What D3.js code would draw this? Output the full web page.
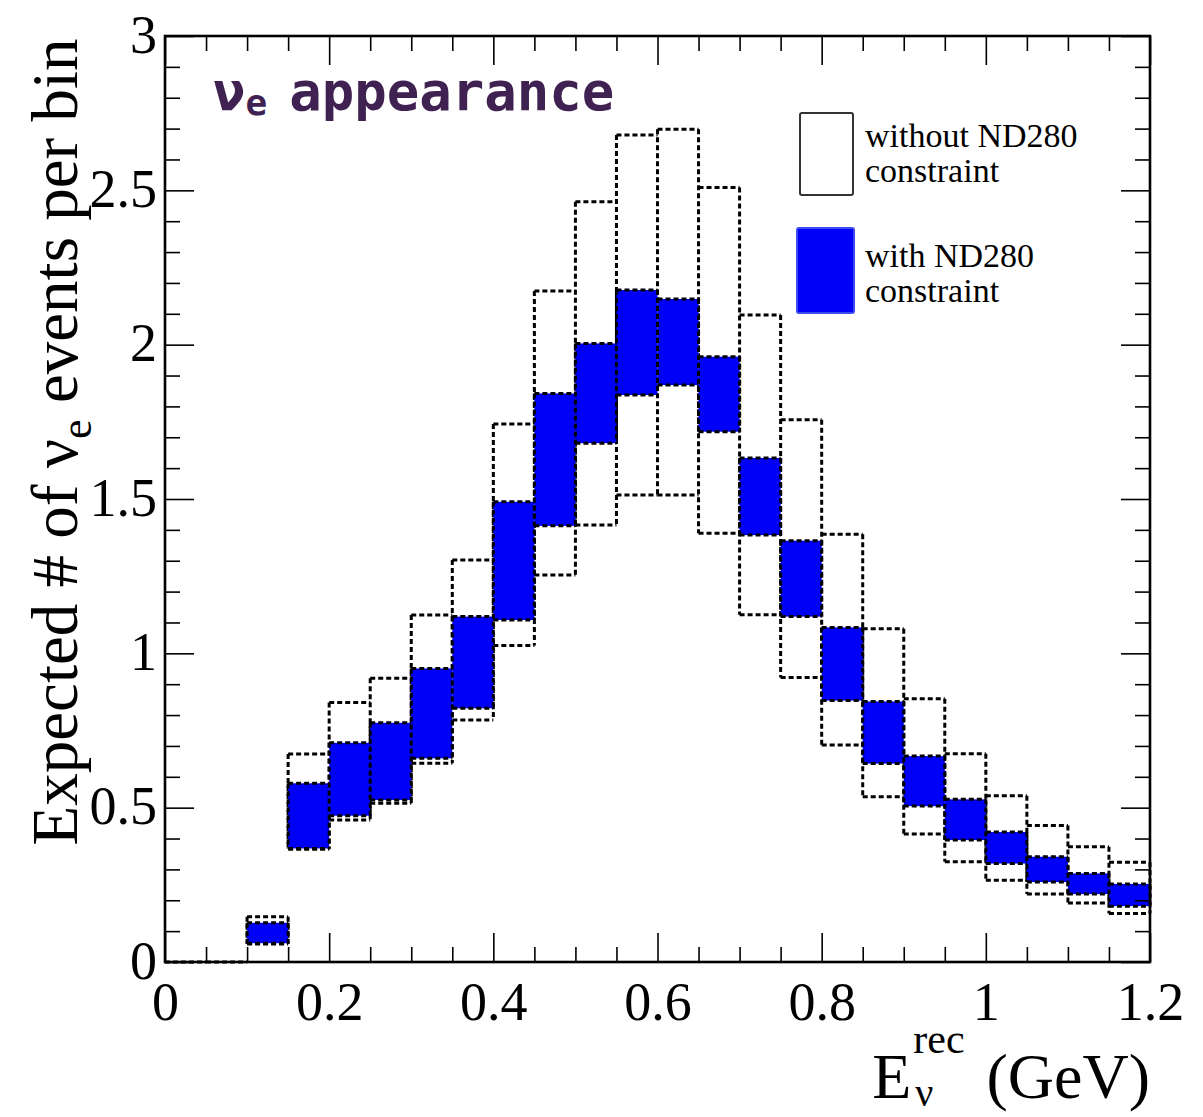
<!DOCTYPE html>
<html>
<head>
<meta charset="utf-8">
<script src="https://cdn.jsdelivr.net/npm/d3@7"></script>
<style>
  html, body { margin: 0; padding: 0; background: #fff; }
  svg { display: block; }
  .serif { font-family: "Liberation Serif", "Times New Roman", serif; }
</style>
</head>
<body>
<div id="chart"></div>
<script>
// bin edges of E_nu^rec (GeV), 24 bins of 0.05
var binEdges = [0, 0.05, 0.1, 0.15, 0.2, 0.25, 0.3, 0.35, 0.4, 0.45, 0.5, 0.55,
  0.6, 0.65, 0.7, 0.75, 0.8, 0.85, 0.9, 0.95, 1.0, 1.05, 1.1, 1.15, 1.2];

// error band without ND280 constraint (lower / upper edge per bin)
var withoutLow = [0, 0, 0.058, 0.365, 0.460, 0.514, 0.644, 0.784, 1.025, 1.254, 1.416, 1.513,
  1.513, 1.389, 1.125, 0.922, 0.703, 0.535, 0.415, 0.325, 0.265, 0.220, 0.191, 0.157];
var withoutHigh = [0, 0, 0.147, 0.674, 0.841, 0.919, 1.124, 1.302, 1.743, 2.174, 2.463, 2.679,
  2.698, 2.509, 2.096, 1.757, 1.386, 1.080, 0.853, 0.675, 0.539, 0.442, 0.373, 0.323];

// error band with ND280 constraint
var withLow = [0, 0, 0.061, 0.368, 0.474, 0.525, 0.660, 0.822, 1.108, 1.413, 1.681, 1.837,
  1.869, 1.718, 1.383, 1.119, 0.847, 0.643, 0.505, 0.395, 0.319, 0.259, 0.220, 0.181];
var withHigh = [0, 0, 0.127, 0.579, 0.710, 0.775, 0.951, 1.119, 1.491, 1.842, 2.004, 2.177,
  2.148, 1.961, 1.633, 1.365, 1.084, 0.844, 0.667, 0.527, 0.421, 0.341, 0.287, 0.253];

var xTickLabels = [0, 0.2, 0.4, 0.6, 0.8, 1, 1.2];
var yTickLabels = [0, 0.5, 1, 1.5, 2, 2.5, 3];

var legendLabels = [["without ND280", "constraint"], ["with ND280", "constraint"]];

var W = 1203, H = 1117;
var frame = { left: 165, right: 1150, top: 36, bottom: 962 };

var svg = d3.select('#chart').append('svg')
  .attr('width', W)
  .attr('height', H);

var x = d3.scaleLinear().domain([0, 1.2]).range([frame.left, frame.right]);
var y = d3.scaleLinear().domain([0, 3]).range([frame.bottom, frame.top]);

var blue = '#0000f8';
var dash = '5,3';

// Outline of a band as separate segments (in data units), so that shared
// bin edges are only drawn once and the dashes stay dashed.
function bandSegments(lo, hi) {
  var segs = [];
  var n = lo.length;
  for (var i = 0; i < n; i++) {
    segs.push([binEdges[i], hi[i], binEdges[i + 1], hi[i]]);
    if (lo[i] !== hi[i]) {
      segs.push([binEdges[i], lo[i], binEdges[i + 1], lo[i]]);
    }
  }
  for (var j = 0; j <= n; j++) {
    var iv = [];
    if (j > 0) iv.push([lo[j - 1], hi[j - 1]]);
    if (j < n) iv.push([lo[j], hi[j]]);
    iv.sort(function (a, b) { return a[0] - b[0]; });
    // merge overlapping intervals
    var merged = [];
    iv.forEach(function (r) {
      var last = merged[merged.length - 1];
      if (last && r[0] <= last[1]) {
        last[1] = Math.max(last[1], r[1]);
      } else {
        merged.push([r[0], r[1]]);
      }
    });
    merged.forEach(function (r) {
      if (r[1] > r[0]) segs.push([binEdges[j], r[1], binEdges[j], r[0]]);
    });
  }
  return segs;
}

function drawOutline(segs) {
  svg.append('g').selectAll('line')
    .data(segs)
    .join('line')
    .attr('x1', function (d) { return x(d[0]); })
    .attr('y1', function (d) { return y(d[1]); })
    .attr('x2', function (d) { return x(d[2]); })
    .attr('y2', function (d) { return y(d[3]); })
    .attr('stroke', '#000')
    .attr('stroke-width', 3)
    .attr('stroke-dasharray', dash);
}

var bins = d3.range(binEdges.length - 1);

// band without the constraint: dashed outline only
drawOutline(bandSegments(withoutLow, withoutHigh));

// band with the constraint: filled blue boxes, dashed outline on top
svg.append('g').selectAll('rect')
  .data(bins.filter(function (i) { return withHigh[i] > withLow[i]; }))
  .join('rect')
  .attr('x', function (i) { return x(binEdges[i]); })
  .attr('width', function (i) { return x(binEdges[i + 1]) - x(binEdges[i]); })
  .attr('y', function (i) { return y(withHigh[i]); })
  .attr('height', function (i) { return y(withLow[i]) - y(withHigh[i]); })
  .attr('fill', blue);
drawOutline(bandSegments(withLow, withHigh).filter(function (s) {
  // zero bins are already drawn by the first band
  return !(s[1] === 0 && s[3] === 0);
}));

// ticks (ROOT style: on all four sides, pointing inwards)
var xMinor = d3.range(0, 1.2001, 0.05).filter(function (v) { return Math.abs(v / 0.2 - Math.round(v / 0.2)) > 1e-6; });
var yMinor = d3.range(0, 3.0001, 0.1).filter(function (v) { return Math.abs(v / 0.5 - Math.round(v / 0.5)) > 1e-6; });
var majorLen = 29, minorLen = 15;

function styleAxis(g) {
  g.select('.domain').remove();
  g.selectAll('.tick line').attr('stroke', '#000').attr('stroke-width', 1.6);
}

var fmt = function (d) { return String(+d.toFixed(2)); };

svg.append('g')
  .attr('transform', 'translate(0,' + frame.bottom + ')')
  .call(d3.axisBottom(x).tickValues(xTickLabels).tickSize(-majorLen).tickPadding(20).tickFormat(fmt))
  .call(styleAxis)
  .call(function (g) {
    g.selectAll('text').attr('fill', '#000').style('font-size', '54px').style('font-family', '"Liberation Serif", serif');
  });
svg.append('g')
  .attr('transform', 'translate(0,' + frame.bottom + ')')
  .call(d3.axisBottom(x).tickValues(xMinor).tickSize(-minorLen).tickFormat(''))
  .call(styleAxis);
svg.append('g')
  .attr('transform', 'translate(0,' + frame.top + ')')
  .call(d3.axisTop(x).tickValues(xTickLabels).tickSize(-majorLen).tickFormat(''))
  .call(styleAxis);
svg.append('g')
  .attr('transform', 'translate(0,' + frame.top + ')')
  .call(d3.axisTop(x).tickValues(xMinor).tickSize(-minorLen).tickFormat(''))
  .call(styleAxis);

svg.append('g')
  .attr('transform', 'translate(' + frame.left + ',0)')
  .call(d3.axisLeft(y).tickValues(yTickLabels).tickSize(-majorLen).tickPadding(8).tickFormat(fmt))
  .call(styleAxis)
  .call(function (g) {
    g.selectAll('text').attr('fill', '#000').attr('dy', '0.3em').style('font-size', '54px').style('font-family', '"Liberation Serif", serif');
  });
svg.append('g')
  .attr('transform', 'translate(' + frame.left + ',0)')
  .call(d3.axisLeft(y).tickValues(yMinor).tickSize(-minorLen).tickFormat(''))
  .call(styleAxis);
svg.append('g')
  .attr('transform', 'translate(' + frame.right + ',0)')
  .call(d3.axisRight(y).tickValues(yTickLabels).tickSize(-majorLen).tickFormat(''))
  .call(styleAxis);
svg.append('g')
  .attr('transform', 'translate(' + frame.right + ',0)')
  .call(d3.axisRight(y).tickValues(yMinor).tickSize(-minorLen).tickFormat(''))
  .call(styleAxis);

// frame
svg.append('rect')
  .attr('x', frame.left)
  .attr('y', frame.top)
  .attr('width', frame.right - frame.left)
  .attr('height', frame.bottom - frame.top)
  .attr('fill', 'none')
  .attr('stroke', '#000')
  .attr('stroke-width', 2.6);

// title inside the frame
var title = svg.append('text')
  .attr('x', 213)
  .attr('y', 110)
  .attr('fill', '#3f2152')
  .style('font-family', '"DejaVu Sans Mono", monospace')
  .style('font-weight', 'bold')
  .style('font-size', '54px');
title.append('tspan').text('ν');
title.append('tspan').attr('dy', 5).style('font-size', '36px').text('e');
title.append('tspan').attr('dy', -5).attr('dx', 22).text('appearance');

// y axis title
var ylab = svg.append('text')
  .attr('class', 'serif')
  .attr('transform', 'translate(77,442) rotate(-90)')
  .attr('text-anchor', 'middle')
  .attr('fill', '#000')
  .style('font-size', '65px');
ylab.append('tspan').text('Expected # of ν');
ylab.append('tspan').attr('dy', 14).style('font-size', '44px').text('e');
ylab.append('tspan').attr('dy', -14).text(' events per bin');

// x axis title: E_nu^rec (GeV)
var xlabG = svg.append('g').attr('class', 'serif').attr('fill', '#000');
var gev = xlabG.append('text')
  .attr('x', frame.right)
  .attr('y', 1098)
  .attr('text-anchor', 'end')
  .style('font-size', '64px')
  .text('(GeV)');
var gevStart = frame.right - gev.node().getComputedTextLength();
var rec = xlabG.append('text')
  .attr('y', 1053)
  .style('font-size', '42px')
  .text('rec');
var recW = rec.node().getComputedTextLength();
var recX = gevStart - 22 - recW;
rec.attr('x', recX);
xlabG.append('text')
  .attr('x', recX + 2)
  .attr('y', 1106)
  .style('font-size', '40px')
  .text('ν');
xlabG.append('text')
  .attr('x', recX - 2)
  .attr('y', 1098)
  .attr('text-anchor', 'end')
  .style('font-size', '64px')
  .text('E');

// legend
var legendBoxes = [
  { x: 800, y: 113, w: 53, h: 82, fill: '#fff', stroke: '#333' },
  { x: 797, y: 228, w: 57, h: 85, fill: blue, stroke: '#3a4cf0' }
];
var legendText = [147, 267];
legendBoxes.forEach(function (b, i) {
  svg.append('rect')
    .attr('x', b.x).attr('y', b.y)
    .attr('width', b.w).attr('height', b.h)
    .attr('rx', 2)
    .attr('fill', b.fill)
    .attr('stroke', b.stroke)
    .attr('stroke-width', 2);
  svg.append('text')
    .attr('class', 'serif')
    .attr('x', 865)
    .attr('y', legendText[i])
    .attr('fill', '#000')
    .style('font-size', '34px')
    .text(legendLabels[i][0]);
  svg.append('text')
    .attr('class', 'serif')
    .attr('x', 865)
    .attr('y', legendText[i] + 35)
    .attr('fill', '#000')
    .style('font-size', '34px')
    .text(legendLabels[i][1]);
});
</script>
</body>
</html>
